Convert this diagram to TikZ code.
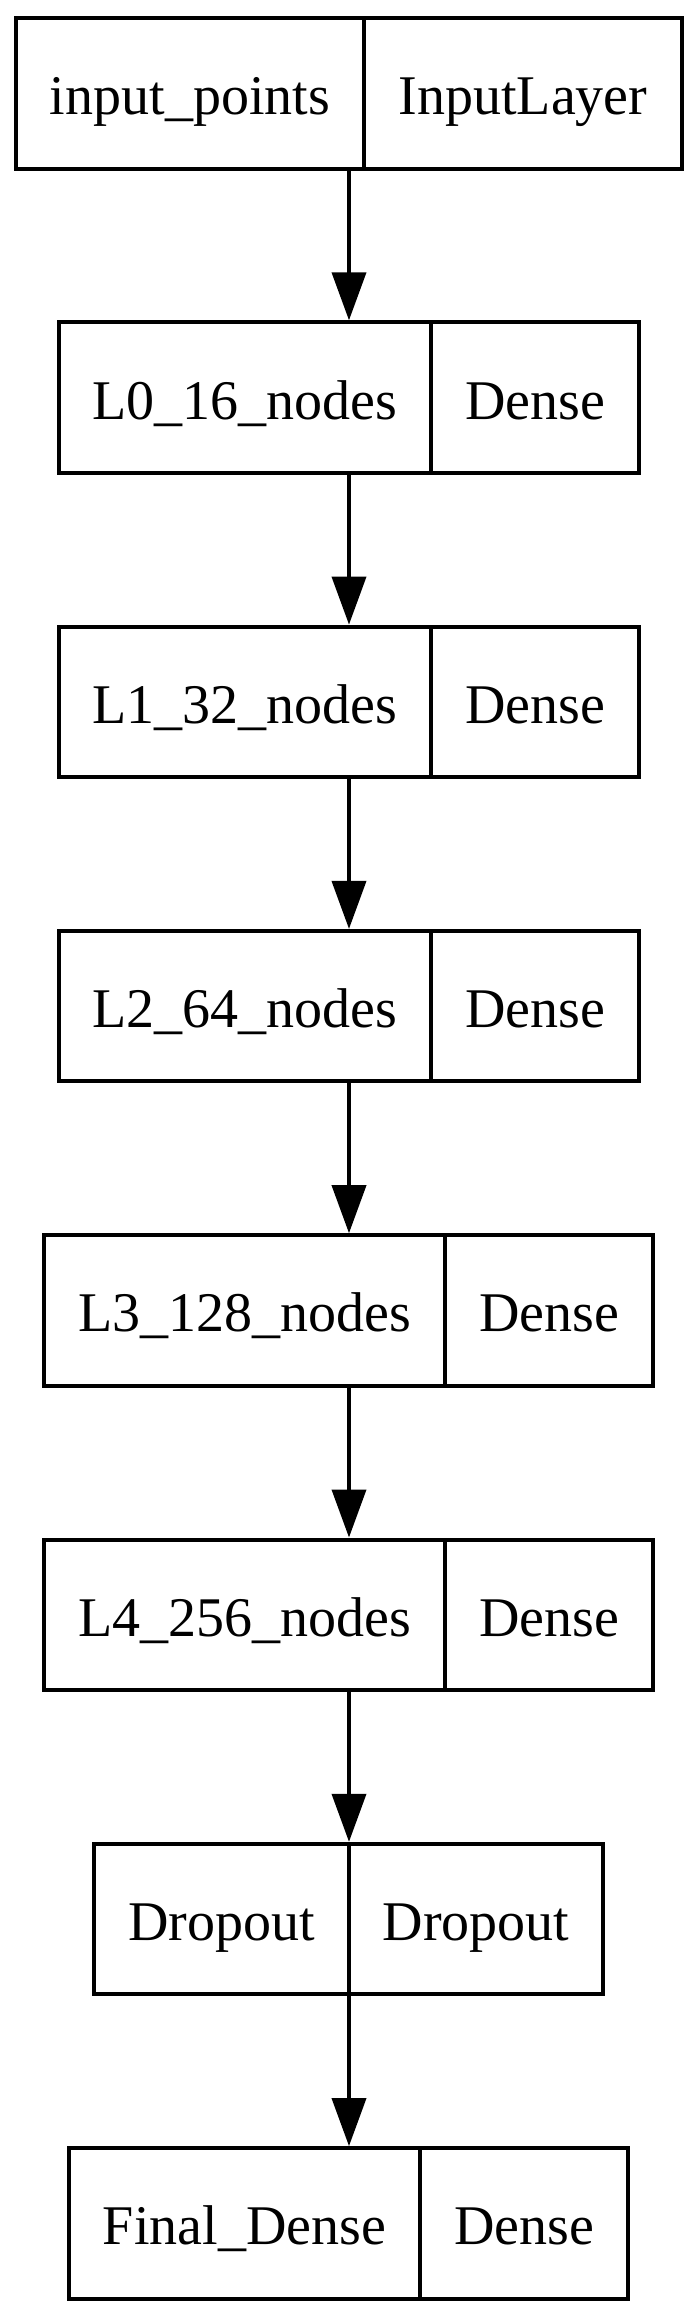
\documentclass[tikz,border=0pt]{standalone}
\usepackage{fontspec}
\setmainfont{Liberation Serif}
\usetikzlibrary{arrows.meta}
\begin{document}
\begin{tikzpicture}[x=0.25pt,y=-0.25pt,
  cell/.style={draw=black, line width=1pt, inner sep=0pt,
    minimum height=37.625pt, text height=10.75pt, text depth=0pt,
    font=\fontsize{14}{16}\selectfont},
  arr/.style={draw=black, line width=0.95pt, -{Triangle[width=8.5pt,length=12pt]}}]
\useasboundingbox (0,0) rectangle (698,2317);
\coordinate (ax) at (349,0);
% input
\node[cell, minimum width=87pt]   (inl) at (190,93.25) {input\_points};
\node[cell, minimum width=79.5pt] (inr) at (523,93.25) {InputLayer};
% L0
\node[cell, minimum width=93pt] (l0l) at (245,397.55) {L0\_16\_nodes};
\node[cell, minimum width=52pt] (l0r) at (535,397.55) {Dense};
% L1
\node[cell, minimum width=93pt] (l1l) at (245,701.85) {L1\_32\_nodes};
\node[cell, minimum width=52pt] (l1r) at (535,701.85) {Dense};
% L2
\node[cell, minimum width=93pt] (l2l) at (245,1006.15) {L2\_64\_nodes};
\node[cell, minimum width=52pt] (l2r) at (535,1006.15) {Dense};
% L3
\node[cell, minimum width=100.25pt] (l3l) at (244.5,1310.45) {L3\_128\_nodes};
\node[cell, minimum width=52pt]     (l3r) at (549,1310.45) {Dense};
% L4
\node[cell, minimum width=100.25pt] (l4l) at (244.5,1614.75) {L4\_256\_nodes};
\node[cell, minimum width=52pt]     (l4r) at (549,1614.75) {Dense};
% Dropout
\node[cell, minimum width=63.75pt] (dol) at (221.5,1919.05) {Dropout};
\node[cell, minimum width=63.5pt]  (dor) at (476,1919.05) {Dropout};
% Final
\node[cell, minimum width=87.75pt] (fdl) at (244.5,2223.35) {Final\_Dense};
\node[cell, minimum width=52pt]    (fdr) at (524,2223.35) {Dense};
% arrows
\draw[arr] (ax |- inl.south) -- (ax |- l0l.north);
\draw[arr] (ax |- l0l.south) -- (ax |- l1l.north);
\draw[arr] (ax |- l1l.south) -- (ax |- l2l.north);
\draw[arr] (ax |- l2l.south) -- (ax |- l3l.north);
\draw[arr] (ax |- l3l.south) -- (ax |- l4l.north);
\draw[arr] (ax |- l4l.south) -- (ax |- dol.north);
\draw[arr] (ax |- dol.south) -- (ax |- fdl.north);
\end{tikzpicture}
\end{document}
